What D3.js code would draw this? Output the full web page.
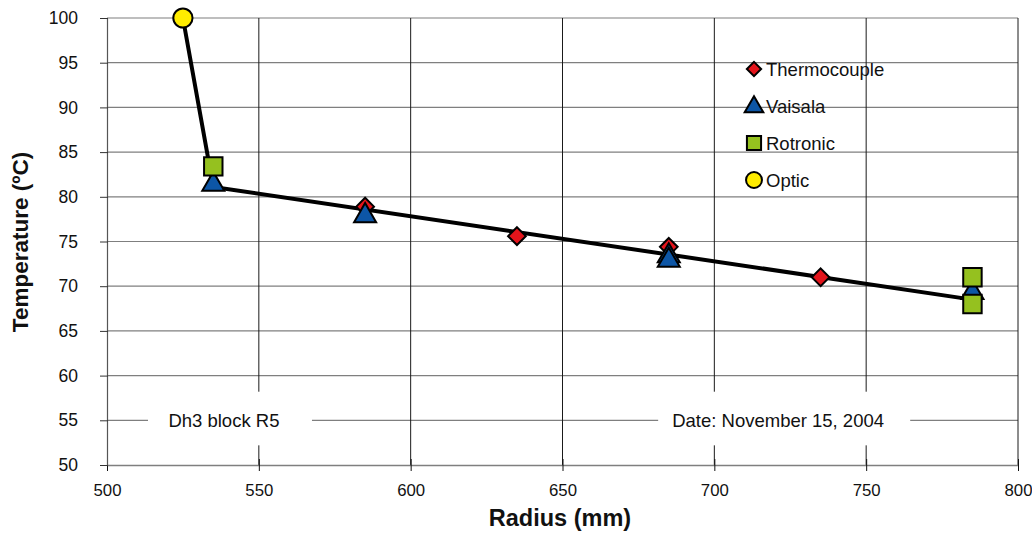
<!DOCTYPE html>
<html>
<head>
<meta charset="utf-8">
<script src="https://cdn.jsdelivr.net/npm/d3@7"></script>
<style>
  html, body { margin: 0; padding: 0; background: #fff; }
  svg { display: block; font-family: "Liberation Sans", Arial, sans-serif; }
</style>
</head>
<body>
<svg id="chart" width="1032" height="559"></svg>
<script>
// ---- data ----
const xTicks = [500, 550, 600, 650, 700, 750, 800];
const yTicks = [50, 55, 60, 65, 70, 75, 80, 85, 90, 95, 100];

const thermocoupleX = [585, 635, 685, 735];
const thermocoupleY = [78.9, 75.6, 74.4, 71.0];

const vaisalaX = [535, 585, 685, 685, 785];
const vaisalaY = [81.6, 78.1, 73.6, 73.1, 69.5];

const rotronicX = [535, 785, 785];
const rotronicY = [83.4, 71.0, 68.0];

const opticX = [525];
const opticY = [100];

const fitX = [525, 535, 785];
const fitY = [100, 81.1, 68.5];

const seriesNames = ["Thermocouple", "Vaisala", "Rotronic", "Optic"];
const noteLeft = "Dh3 block R5";
const noteRight = "Date: November 15, 2004";

// ---- layout ----
const svg = d3.select("#chart");
const x = d3.scaleLinear().domain([500, 800]).range([107, 1018]);
const y = d3.scaleLinear().domain([50, 100]).range([465, 18]);

const colors = {
  Thermocouple: "#e3141b",
  Vaisala: "#0d56a6",
  Rotronic: "#95c11f",
  Optic: "#ffec00"
};

// horizontal gridlines
svg.append("g")
  .selectAll("line").data(yTicks.filter(d => d > 50)).join("line")
  .attr("x1", x(500)).attr("x2", x(800))
  .attr("y1", d => y(d)).attr("y2", d => y(d))
  .attr("stroke", "#7f7f7f").attr("stroke-width", 1.2);

// vertical gridlines
svg.append("g")
  .selectAll("line").data(xTicks.filter(d => d > 500)).join("line")
  .attr("x1", d => x(d)).attr("x2", d => x(d))
  .attr("y1", y(100)).attr("y2", y(50))
  .attr("stroke", "#1a1a1a").attr("stroke-width", 1);

// text boxes (white background hides grid)
function noteBox(txt, xa, xb, cx) {
  svg.append("rect")
    .attr("x", x(xa)).attr("width", x(xb) - x(xa))
    .attr("y", y(58.2)).attr("height", y(52.2) - y(58.2))
    .attr("fill", "#fff");
  svg.append("text")
    .attr("x", x(cx)).attr("y", y(55) + 6.5)
    .attr("text-anchor", "middle")
    .attr("font-size", 18.5).attr("fill", "#111")
    .text(txt);
}
noteBox(noteLeft, 513.5, 567.5, 538.5);
noteBox(noteRight, 681.5, 764.5, 721);

// axes
const xAxis = d3.axisBottom(x).tickValues(xTicks).tickSize(6).tickSizeOuter(0).tickPadding(13);
const gx = svg.append("g").attr("transform", `translate(0,${y(50)})`).call(xAxis);
gx.select(".domain").attr("stroke", "#7f7f7f").attr("stroke-width", 1.5);
gx.selectAll(".tick line").attr("stroke", "#111").attr("y1", -6);
gx.selectAll(".tick text").attr("font-size", 16.8).attr("fill", "#111")
  .attr("font-family", "Liberation Sans, Arial, sans-serif");

const yAxis = d3.axisLeft(y).tickValues(yTicks).tickSize(7).tickSizeOuter(0).tickPadding(22);
const gy = svg.append("g").attr("transform", `translate(${x(500)},0)`).call(yAxis);
gy.select(".domain").attr("stroke", "#555").attr("stroke-width", 1.2);
gy.selectAll(".tick line").attr("stroke", "#333").attr("x2", -7).attr("x1", 1);
gy.selectAll(".tick text").attr("font-size", 17.5).attr("fill", "#111")
  .attr("font-family", "Liberation Sans, Arial, sans-serif");

// axis titles
svg.append("text")
  .attr("x", 560).attr("y", 526)
  .attr("text-anchor", "middle").attr("font-weight", "bold").attr("font-size", 23.5)
  .attr("fill", "#111").text("Radius (mm)");
svg.append("text")
  .attr("transform", "translate(28,242) rotate(-90)")
  .attr("text-anchor", "middle").attr("font-weight", "bold").attr("font-size", 22.5)
  .attr("fill", "#111").text("Temperature (ºC)");

// fit line
const line = d3.line().x(d => x(d[0])).y(d => y(d[1]));
svg.append("path")
  .datum(fitX.map((v, i) => [v, fitY[i]]))
  .attr("d", line)
  .attr("fill", "none").attr("stroke", "#000").attr("stroke-width", 4)
  .attr("stroke-linejoin", "round");

// markers
const sym = {
  Thermocouple: d3.symbol().type(d3.symbolDiamond2).size(200),
  Vaisala: d3.symbol().type(d3.symbolTriangle).size(210),
  Rotronic: d3.symbol().type(d3.symbolSquare).size(340),
  Optic: d3.symbol().type(d3.symbolCircle).size(290)
};
function drawMarker(g, name, px, py) {
  const off = name === "Vaisala" ? 2 : 0;
  g.append("path")
    .attr("d", sym[name]())
    .attr("transform", `translate(${px},${py + off})`)
    .attr("fill", colors[name]).attr("stroke", "#000").attr("stroke-width", 2)
    .attr("stroke-linejoin", "miter");
}
const seriesData = {
  Thermocouple: [thermocoupleX, thermocoupleY],
  Vaisala: [vaisalaX, vaisalaY],
  Rotronic: [rotronicX, rotronicY],
  Optic: [opticX, opticY]
};
const gm = svg.append("g");
seriesNames.forEach(name => {
  const [xs, ys] = seriesData[name];
  xs.forEach((v, i) => drawMarker(gm, name, x(v), y(ys[i])));
});

// legend
const legend = svg.append("g");
seriesNames.forEach((name, i) => {
  const ly = 69 + i * 37;
  const g = legend.append("g");
  const s = {
    Thermocouple: d3.symbol().type(d3.symbolDiamond2).size(130),
    Vaisala: d3.symbol().type(d3.symbolTriangle).size(150),
    Rotronic: d3.symbol().type(d3.symbolSquare).size(200),
    Optic: d3.symbol().type(d3.symbolCircle).size(200)
  }[name];
  g.append("path").attr("d", s())
    .attr("transform", `translate(754,${ly + (name === "Vaisala" ? 1 : 0)})`)
    .attr("fill", colors[name]).attr("stroke", "#000").attr("stroke-width", 2);
  g.append("text").attr("x", 766).attr("y", ly + 6.5)
    .attr("font-size", 18.5).attr("fill", "#111").text(name);
});
</script>
</body>
</html>
